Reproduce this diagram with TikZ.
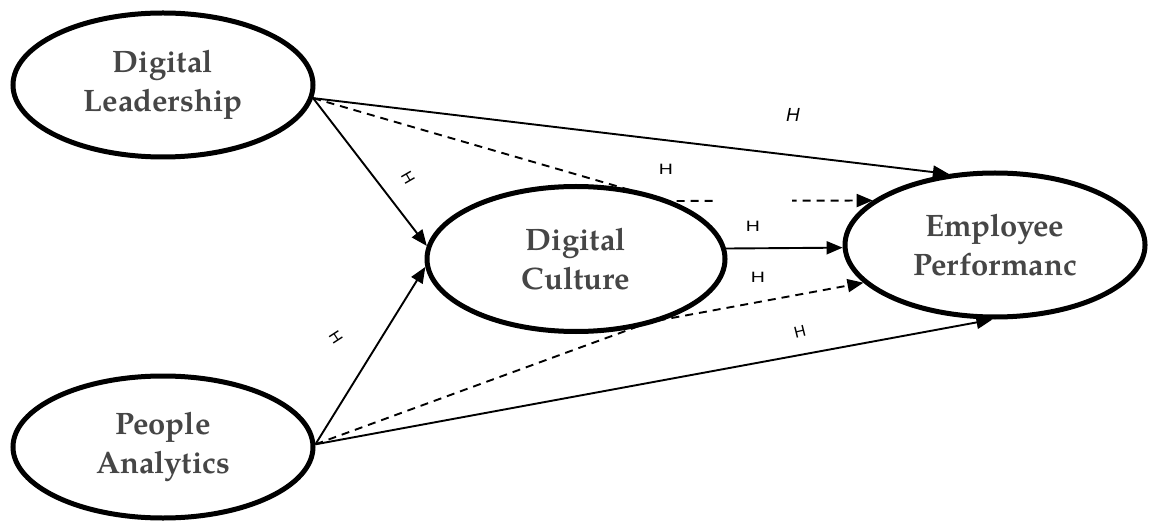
\documentclass[tikz,border=0pt]{standalone}
\usepackage{fontspec}
\setmainfont{TeX Gyre Pagella}
\newfontfamily\labelfont{Liberation Sans}
\usetikzlibrary{shapes.geometric,arrows.meta,backgrounds}
\definecolor{txtgray}{RGB}{70,70,70}
\begin{document}
\begin{tikzpicture}[x=0.5pt,y=-0.5pt]
\tikzset{
  construct/.style={ellipse, draw, line width=2.5pt, fill=white,
    minimum width=150pt, minimum height=72pt, inner sep=0pt, align=center,
    font=\fontsize{15.5}{19.5}\selectfont\bfseries, text=txtgray},
  conn/.style={line width=0.95pt, -{Triangle[length=8pt,width=6.5pt]}},
  dconn/.style={conn, dash pattern=on 4pt off 3pt},
  hlab/.style={font=\labelfont\fontsize{7.5}{8}\selectfont, inner sep=0pt, xscale=1.3},
  hrot/.style={font=\labelfont\fontsize{8}{9}\selectfont, inner sep=0pt},
  hital/.style={font=\labelfont\itshape\fontsize{9.5}{10}\selectfont, inner sep=0pt},
}
\useasboundingbox (0,0) rectangle (1154,523);

\node[construct] (dl) at (163,85) {Digital\\Leadership};
\node[construct, minimum height=71pt] (pa) at (163,447) {People\\Analytics};
\node[construct, minimum width=149pt, minimum height=72.5pt] (dc) at (576,259) {Digital\\Culture};
\node[construct] (ep) at (995,245) {Employee\\Performanc};

\coordinate (b1) at (668,201);
\coordinate (b2) at (650,322);

\begin{pgfonlayer}{background}
  \draw[conn] (dl.-5) -- (ep.123);
  \draw[dconn] (dl.-5) -- (b1) -- (ep.160);
  \draw[conn] (dl.-5) -- (dc.175);
  \draw[conn] (pa.1.5) -- (dc.183);
  \draw[conn] (dc.4) -- (ep.181);
  \draw[dconn] (pa.1.5) -- (b2) -- (ep.196.7);
  \draw[conn] (pa.1.5) -- (ep.268);
  \fill[white] (717,195) rectangle (792,207);
\end{pgfonlayer}

\node[hital] (h1) at (793,115) {H};
\node[hlab] (h2) at (666,169) {H};
\node[hrot] (h3) at (408,178) {\rotatebox{-60}{H}};
\node[hlab] (h4) at (753,226) {H};
\node[hlab] (h5) at (758,277) {H};
\node[hrot] (h6) at (336,337) {\rotatebox{-57}{H}};
\node[hrot] (h7) at (800,332) {\rotatebox{14}{H}};
\end{tikzpicture}
\end{document}
